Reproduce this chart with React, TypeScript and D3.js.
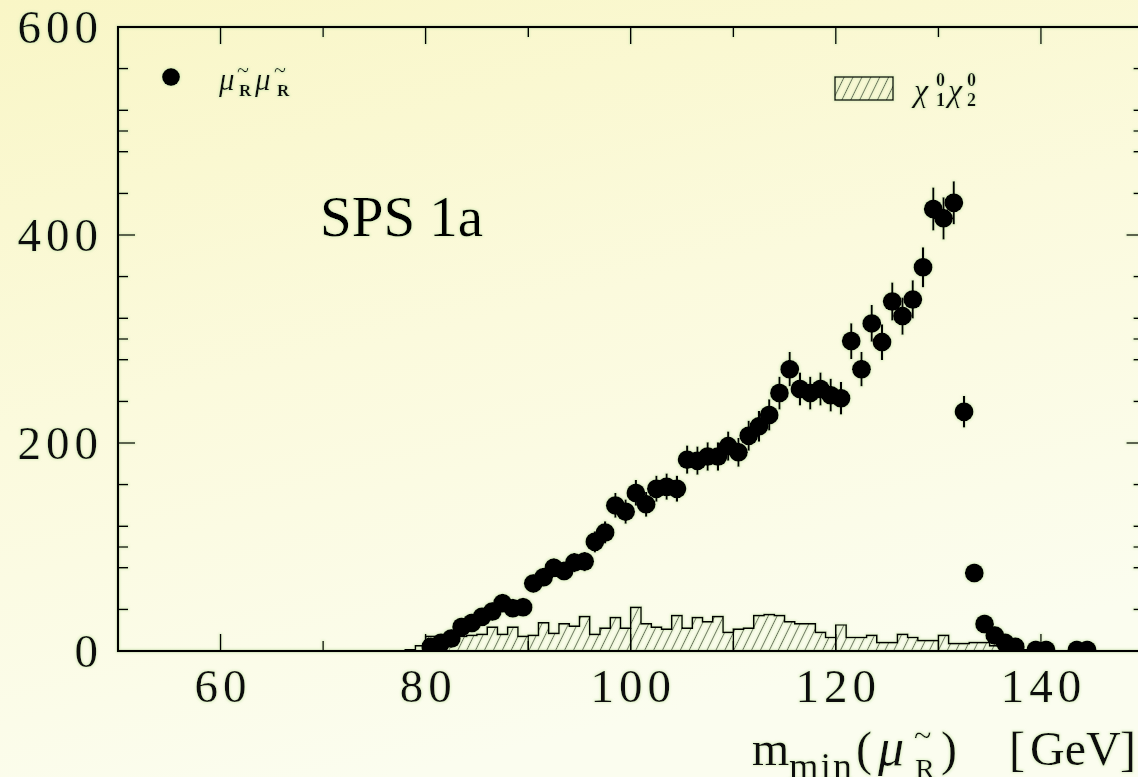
import React from "react";
import * as d3 from "d3";

// Smuon pair events: bin centres (GeV) and counts
const smuonMass = [
  80.5, 81.5, 82.5, 83.5, 84.5, 85.5, 86.5, 87.5, 88.5, 89.5,
  90.5, 91.5, 92.5, 93.5, 94.5, 95.5, 96.5, 97.5, 98.5, 99.5,
  100.5, 101.5, 102.5, 103.5, 104.5, 105.5, 106.5, 107.5, 108.5, 109.5,
  110.5, 111.5, 112.5, 113.5, 114.5, 115.5, 116.5, 117.5, 118.5, 119.5,
  120.5, 121.5, 122.5, 123.5, 124.5, 125.5, 126.5, 127.5, 128.5, 129.5,
  130.5, 131.5, 132.5, 133.5, 134.5, 135.5, 136.5, 137.5, 139.5, 140.5,
  143.5, 144.5,
];
const smuonCounts = [
  4, 8, 12, 23, 27, 33, 38, 46, 41, 42,
  65, 71, 80, 77, 85, 86, 105, 114, 140, 134,
  152, 141, 156, 158, 156, 184, 183, 187, 187, 197,
  191, 207, 216, 227, 248, 271, 252, 248, 252, 246,
  243, 298, 271, 315, 297, 336, 322, 338, 369, 425,
  416, 431, 230, 75, 26, 15, 8, 4, 1, 1,
  1, 1,
];

// Neutralino background histogram: lower bin edges (GeV) and counts
const chiEdges = [
  78, 79, 80, 81, 82, 83, 84, 85, 86, 87, 88, 89, 90, 91, 92, 93, 94, 95, 96, 97,
  98, 99, 100, 101, 102, 103, 104, 105, 106, 107, 108, 109, 110, 111, 112, 113, 114, 115, 116, 117,
  118, 119, 120, 121, 122, 123, 124, 125, 126, 127, 128, 129, 130, 131, 132, 133, 134, 135, 136, 137,
  138,
];
const chiCounts = [
  1, 5, 14, 12, 13, 14, 15, 16, 23, 16, 23, 14, 15, 27, 17, 26, 24, 33, 16, 22,
  32, 22, 42, 26, 23, 21, 34, 22, 32, 28, 33, 18, 21, 22, 34, 35, 34, 28, 26, 26,
  18, 13, 25, 13, 13, 15, 8, 8, 16, 13, 10, 10, 15, 7, 7, 8, 8, 5, 3, 2,
  1,
];

// Axis ticks
const xMajorTicks = [60, 80, 100, 120, 140];
const xMinorTicks = [70, 90, 110, 130];
const yMajorTicks = [0, 200, 400, 600];
const yMinorOffsets = [40, 80, 100, 120, 160];
const decadeLines = [90, 100, 110, 120, 130];

const W = 1138;
const H = 777;
const serif = "'Liberation Serif', 'Times New Roman', serif";

export default function App() {
  const x = d3.scaleLinear().domain([50, 150]).range([118, 1143.5]);
  const y = d3.scaleLinear().domain([0, 600]).range([651, 27]);
  const [x0, x1] = x.range();
  const [yb, yt] = y.range();

  const yMinorTicks: number[] = [];
  yMajorTicks.slice(0, -1).forEach((m) =>
    yMinorOffsets.forEach((o) => yMinorTicks.push(m + o))
  );

  // step outline of the histogram
  const binPts: [number, number][] = [[chiEdges[0], 0]];
  chiEdges.forEach((e, i) => binPts.push([e, chiCounts[i]]));
  const lastEdge = chiEdges[chiEdges.length - 1] + 1;
  binPts.push([lastEdge, chiCounts[chiCounts.length - 1]]);
  binPts.push([lastEdge, 0]);
  const stepLine = d3
    .line<[number, number]>()
    .x((d) => x(d[0]))
    .y((d) => y(d[1]))
    .curve(d3.curveStepAfter);
  const stepArea = d3
    .area<[number, number]>()
    .x((d) => x(d[0]))
    .y0(y(0))
    .y1((d) => y(d[1]))
    .curve(d3.curveStepAfter);

  const countAt = (edge: number) => {
    const i = chiEdges.indexOf(edge);
    return i < 0 ? 0 : chiCounts[i];
  };

  const points = smuonMass.map((m, i) => ({ m, n: smuonCounts[i] }));

  return (
    <svg
      width={W}
      height={H}
      style={{ position: "absolute", left: 0, top: 0, display: "block" }}
    >
      <defs>
        <linearGradient id="bg" x1="0" y1="0" x2="0.35" y2="1">
          <stop offset="0" stopColor="#f9f6c6" />
          <stop offset="0.5" stopColor="#fbfadd" />
          <stop offset="1" stopColor="#fbfdef" />
        </linearGradient>
        <pattern
          id="hatch"
          patternUnits="userSpaceOnUse"
          width={8}
          height={8}
          patternTransform="rotate(26)"
        >
          <line x1={0} y1={-1} x2={0} y2={9} stroke="#000" strokeWidth={1.5} />
        </pattern>
        <clipPath id="plot">
          <rect x={x0} y={yt} width={x1 - x0} height={yb - yt} />
        </clipPath>
        {/* faint green fringe around the dark ink */}
        <filter id="halo" x="-5%" y="-5%" width="110%" height="110%">
          <feMorphology in="SourceAlpha" operator="dilate" radius={1.2} result="d" />
          <feGaussianBlur in="d" stdDeviation={0.8} result="b" />
          <feFlood floodColor="#cfe8b4" floodOpacity={0.6} />
          <feComposite in2="b" operator="in" result="g" />
          <feMerge>
            <feMergeNode in="g" />
            <feMergeNode in="SourceGraphic" />
          </feMerge>
        </filter>
      </defs>

      <rect x={0} y={0} width={W} height={H} fill="url(#bg)" />

      <g filter="url(#halo)">
        {/* hatched neutralino histogram */}
        <path d={stepArea(binPts) ?? ""} fill="url(#hatch)" />
        <path
          d={stepLine(binPts) ?? ""}
          fill="none"
          stroke="#000"
          strokeWidth={1.7}
        />
        {decadeLines.map((v) => (
          <line
            key={v}
            x1={x(v)}
            x2={x(v)}
            y1={y(0)}
            y2={y(Math.min(countAt(v - 1), countAt(v)))}
            stroke="#000"
            strokeWidth={1.5}
          />
        ))}

        {/* smuon points with statistical errors */}
        <g clipPath="url(#plot)">
          {points.map((p) => (
            <g key={p.m}>
              <line
                x1={x(p.m)}
                x2={x(p.m)}
                y1={y(p.n - Math.sqrt(p.n))}
                y2={y(p.n + Math.sqrt(p.n))}
                stroke="#000"
                strokeWidth={2.2}
              />
              <circle cx={x(p.m)} cy={y(p.n)} r={9.5} fill="#000" />
            </g>
          ))}
        </g>

        {/* frame */}
        <rect
          x={x0}
          y={yt}
          width={x1 - x0}
          height={yb - yt}
          fill="none"
          stroke="#000"
          strokeWidth={2.2}
        />

        {/* ticks */}
        <g stroke="#000" strokeWidth={1.6}>
          {xMajorTicks.map((v) => (
            <g key={"xM" + v}>
              <line x1={x(v)} x2={x(v)} y1={yb} y2={yb - 17} />
              <line x1={x(v)} x2={x(v)} y1={yt} y2={yt + 17} />
            </g>
          ))}
          {xMinorTicks.map((v) => (
            <g key={"xm" + v}>
              <line x1={x(v)} x2={x(v)} y1={yb} y2={yb - 10} />
              <line x1={x(v)} x2={x(v)} y1={yt} y2={yt + 10} />
            </g>
          ))}
          {yMajorTicks.map((v) => (
            <g key={"yM" + v}>
              <line x1={x0} x2={x0 + 17} y1={y(v)} y2={y(v)} />
              <line x1={x1} x2={x1 - 17} y1={y(v)} y2={y(v)} />
            </g>
          ))}
          {yMinorTicks.map((v) => (
            <g key={"ym" + v}>
              <line x1={x0} x2={x0 + 10} y1={y(v)} y2={y(v)} />
              <line x1={x1} x2={x1 - 10} y1={y(v)} y2={y(v)} />
            </g>
          ))}
        </g>

        {/* tick labels */}
        <g fontFamily={serif} fontSize={47} fill="#111" letterSpacing={5}>
          {yMajorTicks.map((v) => (
            <text
              key={"yl" + v}
              x={103}
              y={y(v)}
              dy="0.34em"
              textAnchor="end"
            >
              {v}
            </text>
          ))}
          {xMajorTicks.map((v) => (
            <text key={"xl" + v} x={x(v) + 2.5} y={702} textAnchor="middle">
              {v}
            </text>
          ))}
        </g>

        {/* axis title: m_min(mu~_R) [GeV] */}
        <g fontFamily={serif} fill="#111">
          <text x={752} y={765} fontSize={48}>m</text>
          <text x={789} y={779} fontSize={38} letterSpacing={2}>min</text>
          <text x={856} y={765} fontSize={48}>(</text>
          <text x={878} y={765} fontSize={52} fontStyle="italic">μ</text>
          <text x={914} y={746} fontSize={32}>~</text>
          <text x={915} y={779} fontSize={30}>R</text>
          <text x={941} y={765} fontSize={48}>)</text>
          <text x={1009} y={765} fontSize={48}>[</text>
          <text x={1030} y={765} fontSize={48}>GeV</text>
          <text x={1120} y={765} fontSize={48}>]</text>
        </g>

        {/* model label */}
        <text x={320} y={236} fontFamily={serif} fontSize={57} fill="#000">
          SPS 1a
        </text>

        {/* legend: smuon pairs */}
        <circle cx={171} cy={77} r={9} fill="#000" />
        <g fontFamily={serif} fill="#111">
          <text x={219} y={90} fontSize={31} fontStyle="italic">μ</text>
          <text x={237} y={77} fontSize={22}>~</text>
          <text x={239} y={96} fontSize={17} fontWeight="bold">R</text>
          <text x={255} y={90} fontSize={31} fontStyle="italic">μ</text>
          <text x={274} y={77} fontSize={22}>~</text>
          <text x={277} y={96} fontSize={17} fontWeight="bold">R</text>
        </g>

        {/* legend: neutralino pairs */}
        <rect
          x={835}
          y={77}
          width={58}
          height={23}
          fill="url(#hatch)"
          stroke="#000"
          strokeWidth={1.6}
        />
        <g fontFamily={serif} fill="#111">
          <text x={914} y={101} fontSize={32} fontStyle="italic">χ</text>
          <text x={936} y={86} fontSize={18} fontWeight="bold">0</text>
          <text x={936} y={106} fontSize={18} fontWeight="bold">1</text>
          <text x={948} y={101} fontSize={32} fontStyle="italic">χ</text>
          <text x={967} y={86} fontSize={18} fontWeight="bold">0</text>
          <text x={967} y={106} fontSize={18} fontWeight="bold">2</text>
        </g>
      </g>
    </svg>
  );
}
